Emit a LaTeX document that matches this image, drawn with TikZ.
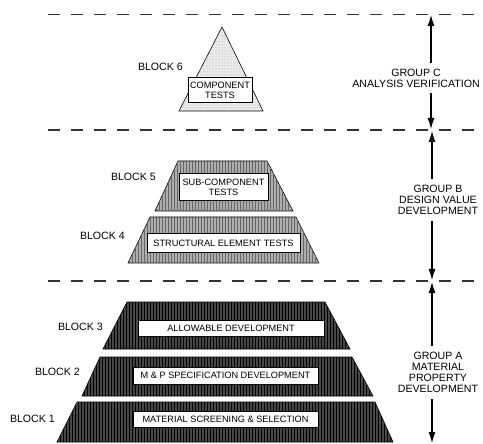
\documentclass[tikz,border=0pt]{standalone}
\usepackage{fontspec}
\setmainfont{Liberation Sans}
\usetikzlibrary{arrows.meta,patterns}

\begin{document}
\begin{tikzpicture}[x=1pt,y=-1pt,>={Latex[length=11pt,width=7pt]},
  block label/.style={anchor=east,inner sep=0pt,font=\fontsize{10.6}{11}\selectfont},
  test box/.style={draw,line width=1pt,fill=white,inner sep=0pt,align=center,font=\fontsize{9.2}{9.5}\selectfont},
  group label/.style={align=center,inner sep=6pt,font=\fontsize{10.6}{11}\selectfont}]

  \tikzstyle{level line} = [draw,line width=1.2pt,dash pattern=on 12pt off 11pt,black!80]
  \tikzstyle{dark block} = [draw,line width=0.6pt,fill=black!72,postaction={pattern=vertical lines,pattern color=black}]
  \tikzstyle{grey block} = [draw,line width=0.6pt,fill=black!32,postaction={pattern=vertical lines,pattern color=black!60}]
  \tikzstyle{light block} = [draw,line width=0.6pt,fill=black!8,postaction={pattern=dots,pattern color=black!40}]

  \useasboundingbox (0,0) rectangle (483,444);

  % level lines
  \path[level line] (48,14.5) -- (483,14.5);
  \path[level line] (48,130) -- (483,130);
  \path[level line] (48,281) -- (483,281);

  % block 6
  \path[light block] (179,111) -- (222,27) -- (263,111) -- cycle;
  \node[test box,minimum width=64pt,minimum height=25pt] (box6) at (220,90.5) {COMPONENT\\TESTS};
  \node[block label] (lab6) at (183,67) {BLOCK 6};

  % blocks 5 and 4
  \path[grey block] (155,211) -- (178,161) -- (267,161) -- (293,211) -- cycle;
  \node[test box,minimum width=89pt,minimum height=27pt] (box5) at (223.5,187.5) {SUB-COMPONENT\\TESTS};
  \node[block label] (lab5) at (156,177) {BLOCK 5};

  \path[grey block] (128,263) -- (150,217) -- (296,217) -- (319,263) -- cycle;
  \node[test box,minimum width=153pt,minimum height=19pt] (box4) at (223.5,243.5) {STRUCTURAL ELEMENT TESTS};
  \node[block label] (lab4) at (125,236) {BLOCK 4};

  % blocks 3, 2 and 1
  \path[dark block] (103,349) -- (127,302) -- (325,302) -- (350,349) -- cycle;
  \node[test box,minimum width=186pt,minimum height=16pt] (box3) at (231,328) {ALLOWABLE DEVELOPMENT};
  \node[block label] (lab3) at (103,327) {BLOCK 3};

  \path[dark block] (82,396) -- (100,357) -- (352,357) -- (373,396) -- cycle;
  \node[test box,minimum width=185pt,minimum height=17pt] (box2) at (225.5,375.5) {M \& P SPECIFICATION DEVELOPMENT};
  \node[block label] (lab2) at (80,372) {BLOCK 2};

  \path[dark block] (57,442) -- (77,402) -- (375,402) -- (393,442) -- cycle;
  \node[test box,minimum width=185pt,minimum height=16pt] (box1) at (225.5,419) {MATERIAL SCREENING \& SELECTION};
  \node[block label] (lab1) at (55,419) {BLOCK 1};

  % groups
  \node[group label] (gc) at (416,78) {GROUP C\\ANALYSIS VERIFICATION};
  \node[group label] (gb) at (438,200) {GROUP B\\DESIGN VALUE\\DEVELOPMENT};
  \node[group label] (ga) at (438,372.5) {GROUP A\\MATERIAL\\PROPERTY\\DEVELOPMENT};

  \coordinate (c top) at (431,15);
  \coordinate (c bot) at (431,129);
  \coordinate (b top) at (432,131);
  \coordinate (b bot) at (432,280);
  \coordinate (a top) at (432,282);
  \coordinate (a bot) at (432,443);

  \path[->,line width=1.1pt]
    (c top |- gc.north) edge (c top)
    (c bot |- gc.south) edge (c bot)
    (b top |- gb.north) edge (b top)
    (b bot |- gb.south) edge (b bot)
    (a top |- ga.north) edge (a top)
    (a bot |- ga.south) edge (a bot);
\end{tikzpicture}
\end{document}
